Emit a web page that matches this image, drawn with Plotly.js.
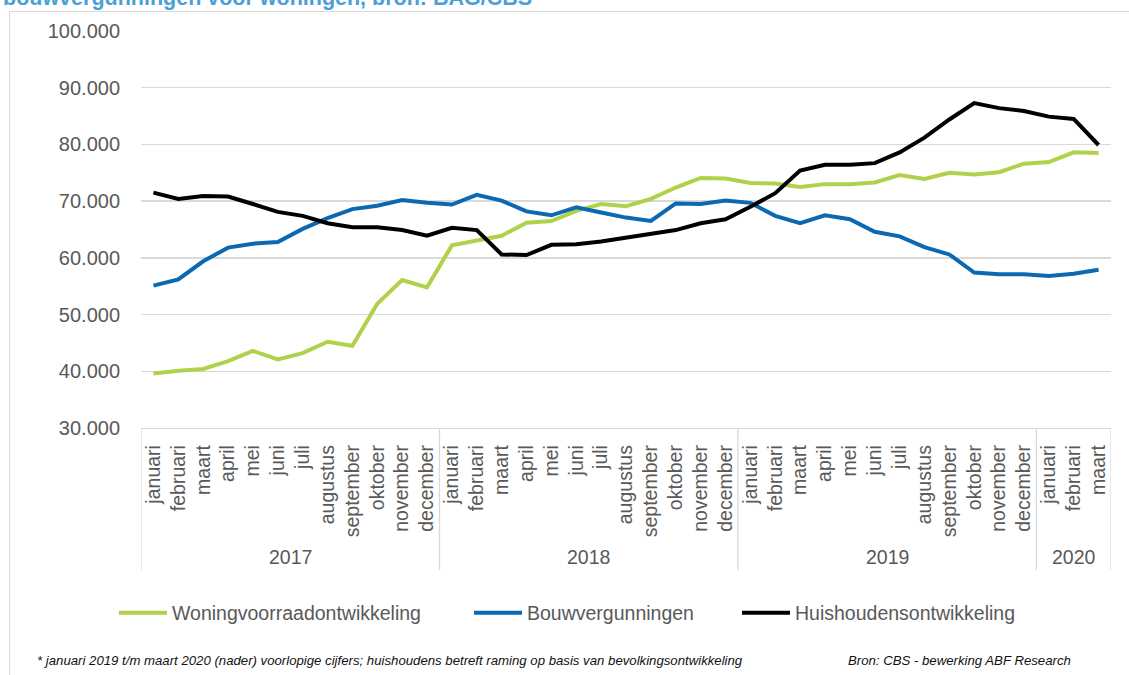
<!DOCTYPE html>
<html><head><meta charset="utf-8">
<script src="https://cdn.plot.ly/plotly-3.0.1.min.js"></script>
<style>html,body{margin:0;padding:0;background:#fff;overflow:hidden}#chart{width:1129px;height:675px}</style>
</head><body><div id="chart"></div>
<script>
const monthLabels = ['januari','februari','maart','april','mei','juni','juli','augustus','september','oktober','november','december',
  'januari','februari','maart','april','mei','juni','juli','augustus','september','oktober','november','december',
  'januari','februari','maart','april','mei','juni','juli','augustus','september','oktober','november','december',
  'januari','februari','maart'];
const years = ['2017','2018','2019','2020'];
const monthsPerYear = [12,12,12,3];
const woningvoorraad = [39600,40100,40400,41800,43600,42100,43200,45200,44500,51900,56100,54800,
  62200,63000,63900,66200,66500,68300,69500,69100,70400,72400,74100,74000,
  73200,73100,72500,73000,73000,73300,74600,73900,75000,74700,75100,76600,
  76900,78600,78500];
const bouwvergunningen = [55100,56200,59400,61800,62500,62800,65100,67000,68600,69200,70200,69700,
  69400,71100,70100,68200,67500,68900,68000,67100,66500,69600,69500,70100,
  69700,67400,66100,67500,66800,64600,63800,61900,60600,57400,57100,57100,
  56800,57200,57900];
const huishoudens = [71500,70400,70900,70800,69500,68100,67400,66100,65400,65400,64900,63900,
  65300,64900,60600,60500,62300,62400,62900,63600,64200,64900,66100,66800,
  69000,71400,75400,76400,76400,76700,78600,81200,84400,87300,86400,85900,
  84900,84500,79900];
const seriesNames = ['Woningvoorraadontwikkeling','Bouwvergunningen','Huishoudensontwikkeling'];
const titleText = 'bouwvergunningen voor woningen, bron: BAG/CBS';
const footnote = '* januari 2019 t/m maart 2020 (nader) voorlopige cijfers; huishoudens betreft raming op basis van bevolkingsontwikkeling';
const sourceText = 'Bron: CBS - bewerking ABF Research';

const idx = monthLabels.map((_, i) => i);
const FONT = 'Arial, "Liberation Sans", sans-serif';
const GREY = '#595959';
const LINEGREY = '#d9d9d9';

const mk = (y, name, color, leg) => ({
  x: idx, y: y, name: name, type: 'scatter', mode: 'lines', legend: leg,
  line: {color: color, width: 4}, hoverinfo: 'skip'
});
const data = [
  mk(woningvoorraad, seriesNames[0], '#b1d14b', 'legend'),
  mk(bouwvergunningen, seriesNames[1], '#0b69b1', 'legend2'),
  mk(huishoudens, seriesNames[2], '#000000', 'legend3')
];

// plot area in px
const L = 141, R = 1111, T = 31, B = 428;
const W = R - L, H = B - T;
const px2x = p => (p - L) / W;
const px2y = p => (B - p) / H;

const shapes = [];
const annotations = [];
let start = 0;
shapes.push({type:'line', xref:'x', yref:'paper', x0:-0.5, x1:-0.5, y0:0, y1:px2y(570), line:{color:LINEGREY, width:1.3}});
years.forEach((yr, k) => {
  const end = start + monthsPerYear[k];
  shapes.push({type:'line', xref:'x', yref:'paper', x0:end-0.5, x1:end-0.5, y0:0, y1:px2y(570), line:{color:LINEGREY, width:1.3}});
  annotations.push({xref:'x', yref:'paper', x:(start+end-1)/2, y:px2y(557), text:yr, showarrow:false,
    xanchor:'center', yanchor:'middle', font:{family:FONT, size:19.5, color:GREY}});
  start = end;
});
// outer frame
shapes.push({type:'rect', xref:'paper', yref:'paper', x0:px2x(9.5), x1:px2x(1140), y0:px2y(11.5), y1:px2y(690),
  line:{color:LINEGREY, width:1}, fillcolor:'rgba(0,0,0,0)', layer:'below'});

annotations.push({xref:'paper', yref:'paper', x:px2x(1), y:px2y(12), text:'<b>'+titleText+'</b>', showarrow:false,
  xanchor:'left', yanchor:'bottom', font:{family:FONT, size:21.5, color:'#4a9fd8'}});
annotations.push({xref:'paper', yref:'paper', x:px2x(35), y:px2y(660), text:'<i>'+footnote+'</i>', showarrow:false,
  xanchor:'left', yanchor:'middle', font:{family:FONT, size:13.2, color:'#111111'}});
annotations.push({xref:'paper', yref:'paper', x:px2x(846), y:px2y(660), text:'<i>'+sourceText+'</i>', showarrow:false,
  xanchor:'left', yanchor:'middle', font:{family:FONT, size:13.2, color:'#111111'}});

const legendBase = (xpx) => ({
  orientation: 'h', x: px2x(xpx), xanchor: 'left', y: px2y(613), yanchor: 'middle',
  font: {family: FONT, size: 19.5, color: GREY}, itemwidth: 48, bgcolor: 'rgba(0,0,0,0)'
});

const layout = {
  width: 1129, height: 675, autosize: false,
  margin: {l: L, r: 1129 - R, t: T, b: 675 - B, pad: 0},
  paper_bgcolor: '#ffffff', plot_bgcolor: '#ffffff',
  separators: ',.',
  showlegend: true,
  hovermode: false,
  font: {family: FONT, color: GREY},
  xaxis: {
    range: [-0.5, idx.length - 0.5], tickmode: 'array', tickvals: idx, ticktext: monthLabels,
    tickangle: -90, tickfont: {family: FONT, size: 19.5, color: GREY},
    ticks: 'outside', ticklen: 8, tickcolor: 'rgba(0,0,0,0)',
    showgrid: false, zeroline: false, showline: true, linecolor: LINEGREY, linewidth: 1.3, fixedrange: true
  },
  yaxis: {
    range: [30000, 100000], tickmode: 'linear', tick0: 30000, dtick: 10000, tickformat: ',d',
    tickfont: {family: FONT, size: 20, color: GREY},
    ticks: 'outside', ticklen: 16, tickcolor: 'rgba(0,0,0,0)',
    showgrid: true, gridcolor: LINEGREY, gridwidth: 1.3, zeroline: false, showline: false, fixedrange: true
  },
  legend: legendBase(114),
  legend2: legendBase(469),
  legend3: legendBase(737),
  shapes: shapes,
  annotations: annotations
};
Plotly.newPlot('chart', data, layout, {displayModeBar: false, staticPlot: true});
</script></body></html>
